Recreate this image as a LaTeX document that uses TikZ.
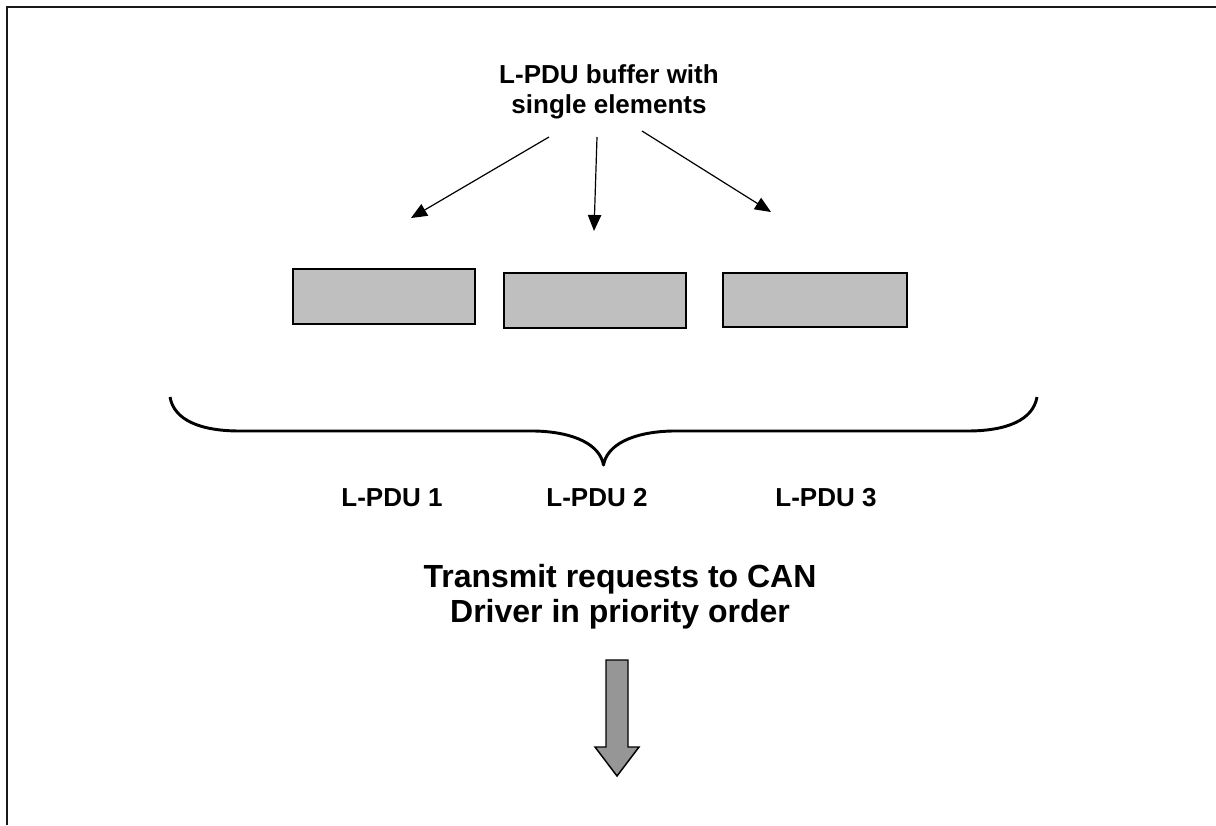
\documentclass[tikz,border=0pt]{standalone}
\usepackage{fontspec}
\setmainfont{Liberation Sans}
\usetikzlibrary{arrows.meta}
\begin{document}
\begin{tikzpicture}[x=0.75pt,y=-0.75pt,
  lbl/.style={font=\bfseries\fontsize{19.5}{22.5}\selectfont, align=center, inner sep=0pt},
  big/.style={font=\bfseries\fontsize{24}{26.25}\selectfont, align=center, inner sep=0pt},
  buf/.style={draw=black, line width=1.5pt, fill=black!25},
  thin/.style={line width=0.9pt, -{Triangle[length=12pt,width=10pt]}},
  frame/.style={line width=1.8pt, black!90}]
\useasboundingbox (0,0) rectangle (1216,825);
% frame
\draw[frame] (7,825) -- (7,7) -- (1216,7);
% title
\node[lbl] (title) at (609,92) {L-PDU buffer with\\single elements};
% buffer boxes
\draw[buf] (293,269) rectangle (475,324);
\draw[buf] (504,273) rectangle (686,328);
\draw[buf] (723,273) rectangle (907,327);
% arrows
\coordinate (s1) at (549,137); \coordinate (e1) at (411,218);
\coordinate (s2) at (597,137); \coordinate (e2) at (594,231);
\coordinate (s3) at (642,131); \coordinate (e3) at (771,212);
\draw[thin] (s1) -- (e1);
\draw[thin] (s2) -- (e2);
\draw[thin] (s3) -- (e3);
% brace
\draw[line width=2.2pt, line join=round]
  (170,397) .. controls (174,420) and (200,431) .. (240,431) -- (535,431)
  .. controls (575,432) and (600,445) .. (603.5,465)
  .. controls (607,445) and (632,432) .. (672,431) -- (967,431)
  .. controls (1007,431) and (1033,420) .. (1037,397);
% labels
\node[lbl] (l1) at (392,498) {L-PDU 1};
\node[lbl] (l2) at (597,498) {L-PDU 2};
\node[lbl] (l3) at (826,498) {L-PDU 3};
% transmit text
\node[big] (tx) at (620,597) {Transmit requests to CAN\\Driver in priority order};
% fat arrow
\draw[line width=1.1pt, fill=black!41, line join=miter]
  (606,660) -- (628,660) -- (628,747) -- (639,747) -- (617,776) -- (595,747) -- (606,747) -- cycle;
\end{tikzpicture}
\end{document}
